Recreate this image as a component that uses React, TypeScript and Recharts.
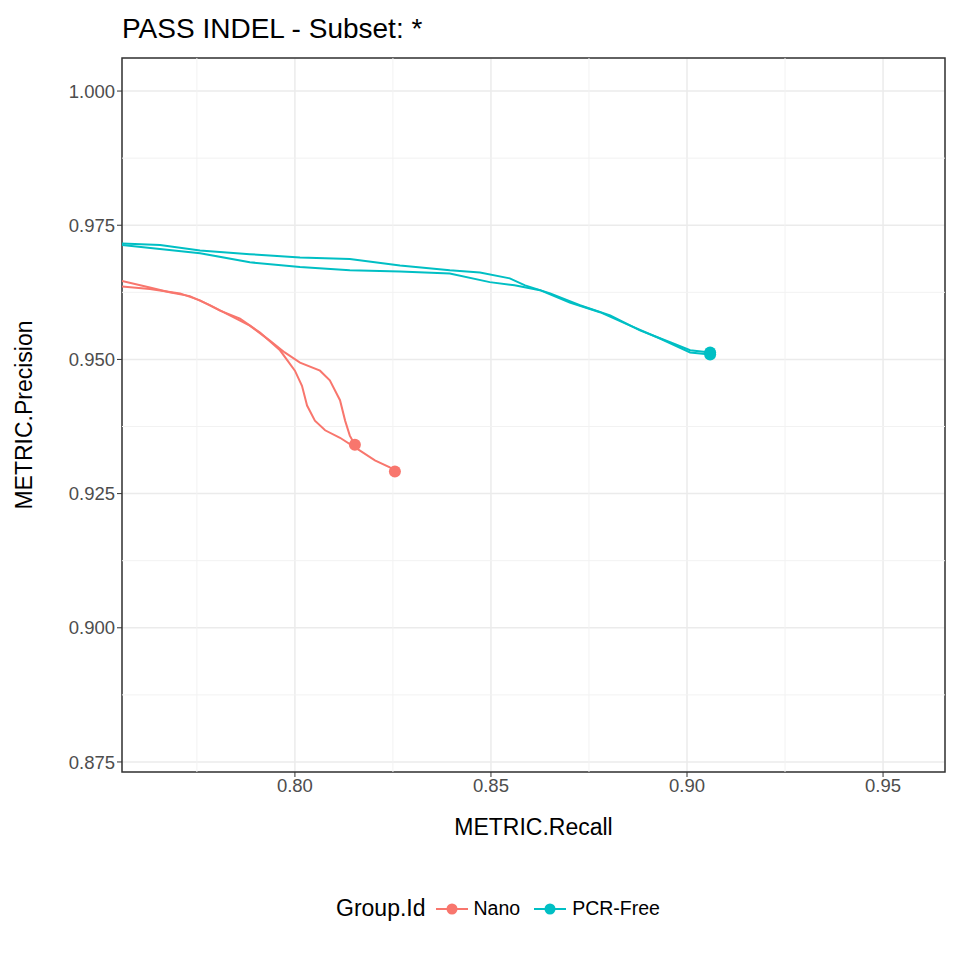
import { LineChart, Line, XAxis, YAxis, CartesianGrid, ReferenceLine, ReferenceArea } from 'recharts';

const xTicks = [0.8, 0.85, 0.9, 0.95];
const yTicks = [0.875, 0.9, 0.925, 0.95, 0.975, 1.0];
const xMinor = [0.775, 0.825, 0.875, 0.925];
const yMinor = [0.8875, 0.9125, 0.9375, 0.9625, 0.9875];

const nanoA = [
  { r: 0.7559, p: 0.9646 }, { r: 0.763, p: 0.9634 }, { r: 0.768, p: 0.9625 }, { r: 0.7732, p: 0.9618 },
  { r: 0.7783, p: 0.9601 }, { r: 0.7834, p: 0.9582 }, { r: 0.7885, p: 0.9563 }, { r: 0.7936, p: 0.9535 },
  { r: 0.7974, p: 0.9513 }, { r: 0.8013, p: 0.9494 }, { r: 0.8064, p: 0.9479 }, { r: 0.8089, p: 0.9461 },
  { r: 0.8115, p: 0.9424 }, { r: 0.8128, p: 0.9386 }, { r: 0.814, p: 0.9358 }, { r: 0.8153, p: 0.9341 },
];
const nanoB = [
  { r: 0.7559, p: 0.9636 }, { r: 0.763, p: 0.9631 }, { r: 0.7707, p: 0.9623 }, { r: 0.7758, p: 0.961 },
  { r: 0.7809, p: 0.9591 }, { r: 0.786, p: 0.9576 }, { r: 0.7911, p: 0.955 }, { r: 0.7962, p: 0.9517 },
  { r: 0.8, p: 0.9479 }, { r: 0.8018, p: 0.9451 }, { r: 0.8031, p: 0.9414 }, { r: 0.8051, p: 0.9386 },
  { r: 0.8077, p: 0.9368 }, { r: 0.8115, p: 0.9354 }, { r: 0.8166, p: 0.933 }, { r: 0.8204, p: 0.9312 },
  { r: 0.8242, p: 0.9299 }, { r: 0.8255, p: 0.9291 },
];
const pcrA = [
  { r: 0.7559, p: 0.9716 }, { r: 0.7656, p: 0.9713 }, { r: 0.7758, p: 0.9703 }, { r: 0.7885, p: 0.9696 },
  { r: 0.8013, p: 0.969 }, { r: 0.814, p: 0.9687 }, { r: 0.8268, p: 0.9675 }, { r: 0.8395, p: 0.9666 },
  { r: 0.8472, p: 0.9662 }, { r: 0.8548, p: 0.9651 }, { r: 0.8587, p: 0.9638 }, { r: 0.8651, p: 0.9623 },
  { r: 0.8727, p: 0.9601 }, { r: 0.8804, p: 0.9582 }, { r: 0.888, p: 0.9554 }, { r: 0.8957, p: 0.9532 },
  { r: 0.9008, p: 0.9517 }, { r: 0.9059, p: 0.9513 },
];
const pcrB = [
  { r: 0.7559, p: 0.9713 }, { r: 0.7758, p: 0.9698 }, { r: 0.7885, p: 0.9681 }, { r: 0.8013, p: 0.9672 },
  { r: 0.814, p: 0.9666 }, { r: 0.8268, p: 0.9664 }, { r: 0.8395, p: 0.966 }, { r: 0.8497, p: 0.9644 },
  { r: 0.856, p: 0.9638 }, { r: 0.8625, p: 0.9629 }, { r: 0.8701, p: 0.9606 }, { r: 0.8778, p: 0.9588 },
  { r: 0.8855, p: 0.9563 }, { r: 0.8931, p: 0.9539 }, { r: 0.9008, p: 0.9513 }, { r: 0.9059, p: 0.9509 },
];

const NANO = '#F8766D';
const PCR = '#00BFC4';
const font = '"Liberation Sans", Arial, sans-serif';

const endDot = (color: string, n: number) => (props: any) => {
  const { cx, cy, index } = props;
  if (index !== n - 1) return <g key={`d-${index}`} />;
  return <circle key={`d-${index}`} cx={cx} cy={cy} r={6} fill={color} stroke="none" />;
};

const series = [
  { id: 'nanoA', data: nanoA, color: NANO },
  { id: 'nanoB', data: nanoB, color: NANO },
  { id: 'pcrA', data: pcrA, color: PCR },
  { id: 'pcrB', data: pcrB, color: PCR },
];

function LegendKey({ color }: { color: string }) {
  return (
    <svg width={36} height={20} style={{ verticalAlign: 'middle' }}>
      <line x1={2} y1={10} x2={34} y2={10} stroke={color} strokeWidth={2} />
      <circle cx={18} cy={10} r={5.5} fill={color} />
    </svg>
  );
}

export default function App() {
  return (
    <div style={{ position: 'absolute', left: 0, top: 0, width: 960, height: 960, background: '#fff', fontFamily: font }}>
      <div style={{ position: 'absolute', left: 122, top: 13, fontSize: 28, color: '#000' }}>PASS INDEL - Subset: *</div>
      <LineChart width={960} height={960} margin={{ top: 58, right: 15, bottom: 125, left: 0 }}>
        <CartesianGrid stroke="#EBEBEB" strokeWidth={1.5} />
        {xMinor.map((v) => <ReferenceLine key={`xm${v}`} x={v} stroke="#F2F2F2" strokeWidth={1} />)}
        {yMinor.map((v) => <ReferenceLine key={`ym${v}`} y={v} stroke="#F2F2F2" strokeWidth={1} />)}
        <XAxis
          type="number"
          dataKey="r"
          domain={[0.7559, 0.9658]}
          ticks={xTicks}
          allowDataOverflow
          height={63}
          axisLine={false}
          tickLine={{ stroke: '#333', strokeWidth: 1 }}
          tickSize={5}
          tickFormatter={(v: number) => v.toFixed(2)}
          tick={{ fontSize: 18.5, fill: '#4D4D4D', fontFamily: font }}
          label={{ value: 'METRIC.Recall', position: 'insideBottom', offset: 0, fontSize: 23, fill: '#000', fontFamily: font }}
        />
        <YAxis
          type="number"
          dataKey="p"
          domain={[0.87313, 1.00616]}
          ticks={yTicks}
          allowDataOverflow
          width={122}
          axisLine={false}
          tickLine={{ stroke: '#333', strokeWidth: 1 }}
          tickSize={5}
          tickFormatter={(v: number) => v.toFixed(3)}
          tick={{ fontSize: 18.5, fill: '#4D4D4D', fontFamily: font }}
          label={{ value: 'METRIC.Precision', angle: -90, position: 'insideLeft', offset: 24, fontSize: 23, fill: '#000', fontFamily: font, style: { textAnchor: 'middle' } }}
        />
        {series.map((s) => (
          <Line
            key={s.id}
            data={s.data}
            dataKey="p"
            type="linear"
            stroke={s.color}
            strokeWidth={2}
            dot={endDot(s.color, s.data.length)}
            activeDot={false}
            isAnimationActive={false}
          />
        ))}
        <ReferenceArea x1={0.7559} x2={0.9658} y1={0.87313} y2={1.00616} fill="none" stroke="#333" strokeWidth={1.5} ifOverflow="visible" />
      </LineChart>
      <div style={{ position: 'absolute', left: 0, width: 960, top: 895, fontSize: 23, display: 'flex', justifyContent: 'flex-start', alignItems: 'center', gap: 4 }}>
        <span style={{ marginRight: 4, marginLeft: 336 }}>Group.Id</span>
        <LegendKey color={NANO} />
        <span style={{ fontSize: 19.5, marginRight: 8 }}>Nano</span>
        <LegendKey color={PCR} />
        <span style={{ fontSize: 19.5 }}>PCR-Free</span>
      </div>
    </div>
  );
}
